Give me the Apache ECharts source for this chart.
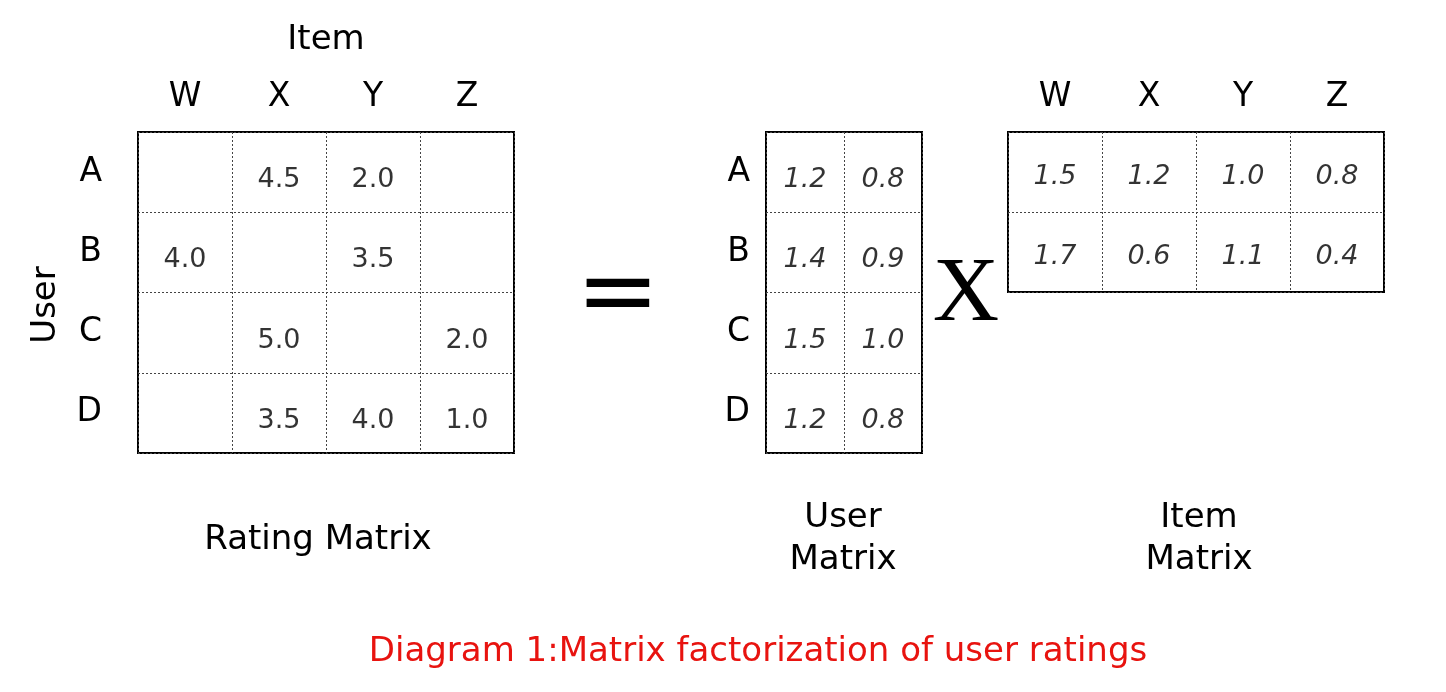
<!DOCTYPE html>
<html><head><meta charset="utf-8">
<script src="https://cdn.jsdelivr.net/npm/echarts@6/dist/echarts.min.js"></script>
<style>html,body{margin:0;background:#fff}#c{width:1446px;height:692px}</style>
</head><body><div id="c"></div>
<script>
const items = ['W','X','Y','Z'];
const users = ['A','B','C','D'];
const factors = ['F1','F2'];
// [itemIndex, userIndex, rating]
const ratings = [[1,0,'4.5'],[2,0,'2.0'],[0,1,'4.0'],[2,1,'3.5'],[1,2,'5.0'],[3,2,'2.0'],[1,3,'3.5'],[2,3,'4.0'],[3,3,'1.0']];
const userF1 = ['1.2','1.4','1.5','1.2'];
const userF2 = ['0.8','0.9','1.0','0.8'];
const itemF1 = ['1.5','1.2','1.0','0.8'];
const itemF2 = ['1.7','0.6','1.1','0.4'];

const font = 'Verdana, DejaVu Sans, sans-serif';
const split = {show:true,lineStyle:{color:'#444',type:[2,2],width:1}};
function xA(gi,data,show){return {gridIndex:gi,type:'category',data:data,position:'top',
  axisLine:{show:false},axisTick:{show:false},splitLine:split,
  axisLabel:{show:show,fontSize:33,color:'#000',fontFamily:font,margin:18}};}
function yA(gi,data,show,margin){return {gridIndex:gi,type:'category',data:data,inverse:true,
  axisLine:{show:false},axisTick:{show:false},splitLine:split,
  axisLabel:{show:show,fontSize:33,color:'#000',fontFamily:font,margin:margin,padding:[0,0,4,0]}};}
function txt(it){return {type:'scatter',xAxisIndex:it.g,yAxisIndex:it.g,symbolSize:1,itemStyle:{color:'transparent'},
  data:it.d,label:{show:true,position:'inside',offset:it.off,formatter:p=>p.value[2],fontSize:27,fontFamily:font,fontStyle:it.italic?'italic':'normal',color:'#000',textBorderWidth:0}};}

const userData=[],itemData=[];
users.forEach((u,i)=>{userData.push([0,i,userF1[i]]);userData.push([1,i,userF2[i]]);});
items.forEach((t,i)=>{itemData.push([i,0,itemF1[i]]);itemData.push([i,1,itemF2[i]]);});

const chart = echarts.init(document.getElementById('c'));
const g = {show:true,borderColor:'#000',borderWidth:2,backgroundColor:'transparent'};
chart.setOption({
  backgroundColor:'#fff',animation:false,
  grid:[Object.assign({left:138,top:132,width:376,height:321},g),
        Object.assign({left:766,top:132,width:156,height:321},g),
        Object.assign({left:1008,top:132,width:376,height:160},g)],
  xAxis:[xA(0,items,true),xA(1,factors,false),xA(2,items,true)],
  yAxis:[yA(0,users,true,36),yA(1,users,true,16),yA(2,factors,false,10)],
  series:[txt({g:0,d:ratings,off:[0,8]}),txt({g:1,d:userData,italic:true,off:[0,8]}),txt({g:2,d:itemData,italic:true,off:[0,5]})],
  graphic:[
    {type:'text',x:326,y:40,style:{text:'Item',align:'center',verticalAlign:'middle',fontSize:34,fontFamily:font,fill:'#000'}},
    {type:'text',x:46,y:305,rotation:Math.PI/2,style:{text:'User',align:'center',verticalAlign:'middle',fontSize:34,fontFamily:font,fill:'#000'}},
    {type:'text',x:318,y:540,style:{text:'Rating Matrix',align:'center',verticalAlign:'middle',fontSize:34,fontFamily:font,fill:'#000'}},
    {type:'text',x:618,y:298,style:{text:'=',align:'center',verticalAlign:'middle',fontSize:100,fontFamily:font,fill:'#000'}},
    {type:'text',x:966,y:296,style:{text:'X',align:'center',verticalAlign:'middle',fontSize:92,fontFamily:'Liberation Serif, serif',fill:'#000'}},
    {type:'text',x:843,y:539,style:{text:'User\nMatrix',align:'center',verticalAlign:'middle',fontSize:34,lineHeight:42,fontFamily:font,fill:'#000'}},
    {type:'text',x:1199,y:539,style:{text:'Item\nMatrix',align:'center',verticalAlign:'middle',fontSize:34,lineHeight:42,fontFamily:font,fill:'#000'}},
    {type:'text',x:758,y:652,style:{text:'Diagram 1:Matrix factorization of user ratings',align:'center',verticalAlign:'middle',fontSize:34,fontFamily:font,fill:'#e8130f'}}
  ]
});
</script></body></html>
